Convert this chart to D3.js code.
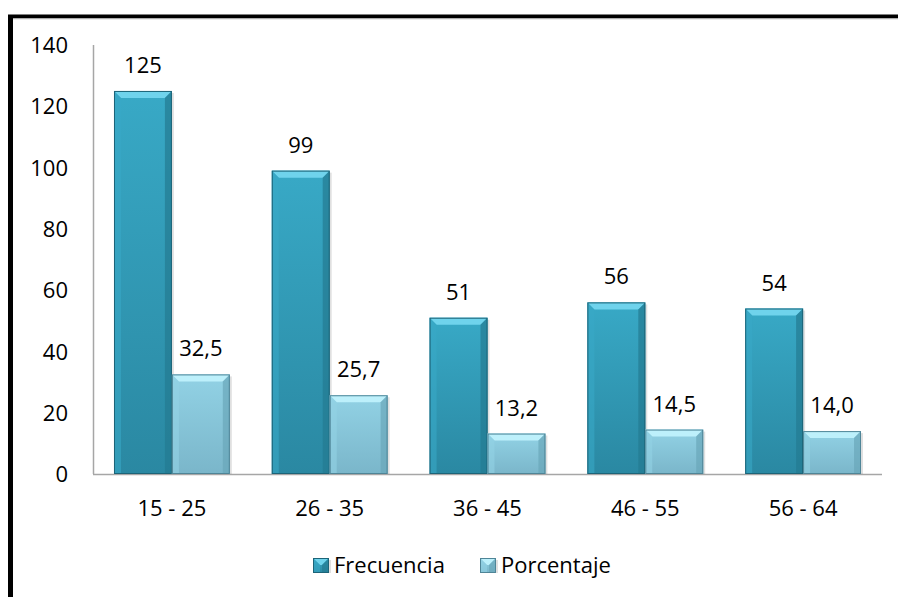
<!DOCTYPE html>
<html>
<head>
<meta charset="utf-8">
<script src="https://cdn.jsdelivr.net/npm/d3@7"></script>
<style>
  body { margin: 0; background: #fff; }
  text { font-family: "Open Sans", Lato, sans-serif; fill: #000; }
</style>
</head>
<body>
<script>
'use strict';

// chart data
const categories = ["15 - 25", "26 - 35", "36 - 45", "46 - 55", "56 - 64"];
const frecuencia = [125, 99, 51, 56, 54];
const porcentaje = [32.5, 25.7, 13.2, 14.5, 14.0];
const seriesNames = ["Frecuencia", "Porcentaje"];
const yTicks = [0, 20, 40, 60, 80, 100, 120, 140];

const measurements = {
  width: 898,
  height: 597,
  left: 93,
  right: 882,
  top: 45,
  bottom: 474,
  font: '22px'
};

const palette = {
  Frecuencia: { top: "#38a9c6", bottom: "#2a88a2", bevel: "#6fd3ec", side: "#237a92", edge: "#1d6478" },
  Porcentaje: { top: "#92d2e5", bottom: "#7ab6ca", bevel: "#bdf0fb", side: "#6aa6b9", edge: "#4f8597" }
};

const svg = d3.select('body').append('svg')
  .attr('width', measurements.width)
  .attr('height', measurements.height);

const defs = svg.append('defs');
seriesNames.forEach(name => {
  let g = defs.append('linearGradient')
    .attr('id', 'grad-' + name)
    .attr('x1', 0).attr('y1', 0).attr('x2', 0).attr('y2', 1);
  g.append('stop').attr('offset', '0%').attr('stop-color', palette[name].top);
  g.append('stop').attr('offset', '100%').attr('stop-color', palette[name].bottom);
});

// frame (black border, top and left)
svg.append('line')
  .attr('x1', 8).attr('y1', 16.5).attr('x2', 898).attr('y2', 16.5)
  .attr('stroke', '#000').attr('stroke-width', 4);
svg.append('line')
  .attr('x1', 10.5).attr('y1', 15).attr('x2', 10.5).attr('y2', 597)
  .attr('stroke', '#000').attr('stroke-width', 5);
svg.append('line')
  .attr('x1', 13).attr('y1', 19).attr('x2', 898).attr('y2', 19)
  .attr('stroke', '#d8d8d8').attr('stroke-width', 1);

// scales
let xScale = d3.scaleBand()
  .domain(categories)
  .range([measurements.left, measurements.right])
  .paddingInner(0.266)
  .paddingOuter(0.133);

let xInner = d3.scaleBand()
  .domain(seriesNames)
  .range([0, xScale.bandwidth()]);

let yScale = d3.scaleLinear()
  .domain([0, 140])
  .range([measurements.bottom, measurements.top]);

// y axis labels
let yAxis = d3.axisLeft(yScale).tickValues(yTicks).tickSize(0).tickPadding(25);
let yg = svg.append('g')
  .attr('transform', `translate(${measurements.left}, 0)`)
  .call(yAxis);
yg.select('.domain').remove();
yg.selectAll('text')
  .style('font-family', '"Open Sans", Lato, sans-serif')
  .style('font-size', measurements.font)
  .attr('dy', '0.35em')
  .attr('fill', '#000');

// axis lines
svg.append('line')
  .attr('x1', measurements.left + 0.5).attr('y1', measurements.top)
  .attr('x2', measurements.left + 0.5).attr('y2', measurements.bottom)
  .attr('stroke', '#a6a6a6').attr('stroke-width', 1.5);
svg.append('line')
  .attr('x1', measurements.left).attr('y1', measurements.bottom + 0.5)
  .attr('x2', measurements.right).attr('y2', measurements.bottom + 0.5)
  .attr('stroke', '#a6a6a6').attr('stroke-width', 1.5);

// draw one beveled bar
function drawBar(g, x, y, w, h, name) {
  let c = palette[name];
  let b = Math.min(7, h / 2);
  // shadow
  g.append('rect')
    .attr('x', x + 2).attr('y', y + 2).attr('width', w).attr('height', h - 2)
    .attr('fill', '#000').attr('opacity', 0.12);
  g.append('rect')
    .attr('x', x).attr('y', y).attr('width', w).attr('height', h)
    .attr('fill', `url(#grad-${name})`);
  // top bevel
  g.append('path')
    .attr('d', `M${x},${y}L${x + w},${y}L${x + w - b},${y + b}L${x + b},${y + b}Z`)
    .attr('fill', c.bevel);
  // left bevel
  g.append('path')
    .attr('d', `M${x},${y}L${x + b},${y + b}L${x + b},${y + h}L${x},${y + h}Z`)
    .attr('fill', c.top).attr('opacity', 0.6);
  // right bevel
  g.append('path')
    .attr('d', `M${x + w},${y}L${x + w - b},${y + b}L${x + w - b},${y + h}L${x + w},${y + h}Z`)
    .attr('fill', c.side).attr('opacity', 0.7);
  g.append('rect')
    .attr('x', x + 0.5).attr('y', y + 0.5).attr('width', w - 1).attr('height', h - 1)
    .attr('fill', 'none').attr('stroke', c.edge).attr('stroke-width', 1);
}

const fmt = v => v.toFixed(1).replace('.', ',');

categories.forEach((cat, i) => {
  let vals = [
    { name: "Frecuencia", value: frecuencia[i], label: String(frecuencia[i]) },
    { name: "Porcentaje", value: porcentaje[i], label: fmt(porcentaje[i]) }
  ];
  let g = svg.append('g');
  vals.forEach(d => {
    let x = xScale(cat) + xInner(d.name);
    let y = yScale(d.value);
    let h = yScale(0) - y;
    drawBar(g, x, y, xInner.bandwidth(), h, d.name);
    svg.append('text')
      .attr('x', x + xInner.bandwidth() / 2)
      .attr('y', y - 18)
      .attr('text-anchor', 'middle')
      .style('font-size', measurements.font)
      .text(d.label);
  });
  svg.append('text')
    .attr('x', xScale(cat) + xScale.bandwidth() / 2)
    .attr('y', 516)
    .attr('text-anchor', 'middle')
    .style('font-size', measurements.font)
    .text(cat);
});

// legend
const legendPos = [313, 480];
seriesNames.forEach((name, i) => {
  let lx = legendPos[i];
  let g = svg.append('g');
  drawBar(g, lx, 558, 16, 15, name);
  svg.append('text')
    .attr('x', lx + 21)
    .attr('y', 573)
    .style('font-size', measurements.font)
    .text(name);
});
</script>
</body>
</html>
